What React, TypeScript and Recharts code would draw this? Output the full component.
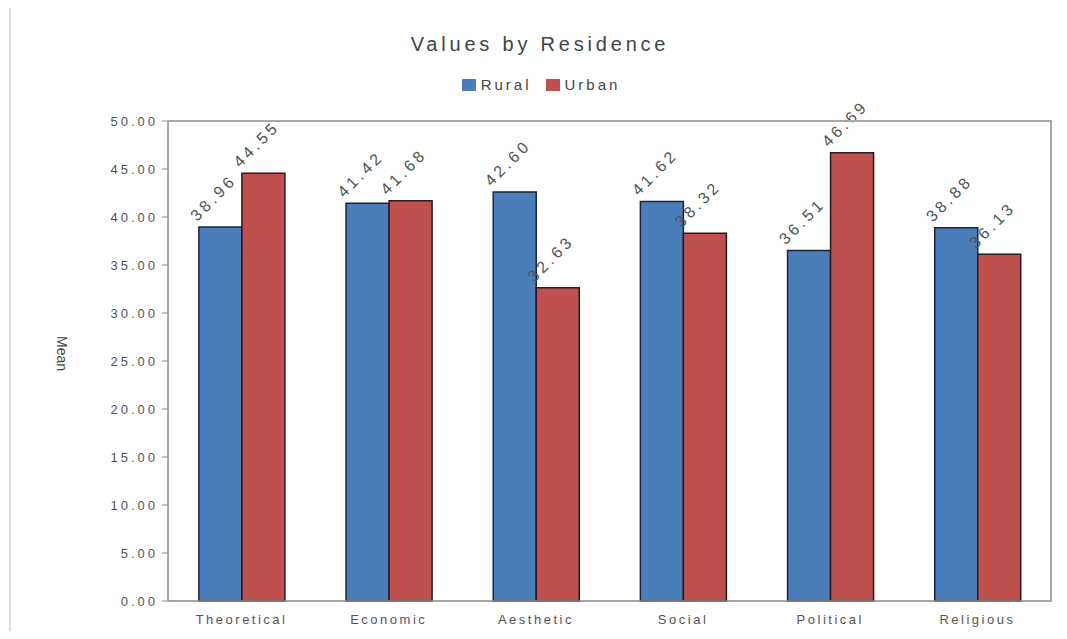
import { Bar, BarChart, LabelList, XAxis, YAxis } from "recharts";

const categories = ["Theoretical", "Economic", "Aesthetic", "Social", "Political", "Religious"];
const rural = [38.96, 41.42, 42.6, 41.62, 36.51, 38.88];
const urban = [44.55, 41.68, 32.63, 38.32, 46.69, 36.13];
const yTicks = [0, 5, 10, 15, 20, 25, 30, 35, 40, 45, 50];
const seriesNames = ["Rural", "Urban"];
const seriesColors = ["#4a7ebb", "#c0504d"];

const data = categories.map((name, i) => ({ name, Rural: rural[i], Urban: urban[i] }));

const textColor = "#4b5550";

const ValueLabel = (props: any) => {
  const { x, y, value } = props;
  const lx = Number(x) - 2;
  const ly = Number(y) - 5;
  return (
    <text
      x={lx}
      y={ly}
      transform={`rotate(-45 ${lx} ${ly})`}
      fontSize={16}
      letterSpacing={3.5}
      fill={textColor}
      fontFamily="Liberation Sans, Arial, sans-serif"
    >
      {Number(value).toFixed(2)}
    </text>
  );
};

const App = () => {
  return (
    <div style={{ position: "relative", margin: -8, width: 1067, height: 639, background: "#fff", fontFamily: "Liberation Sans, Arial, sans-serif" }}>
      <div style={{ position: "absolute", top: 33, left: 0, width: 1080, textAlign: "center", fontSize: 20, letterSpacing: 3.8, color: "#3c4842" }}>
        Values by Residence
      </div>
      <div style={{ position: "absolute", top: 76, left: 0, width: 1082, display: "flex", justifyContent: "center", gap: 14, fontSize: 15, letterSpacing: 3, color: "#3c4842" }}>
        {seriesNames.map((n, i) => (
          <span key={n} style={{ display: "flex", alignItems: "center" }}>
            <span style={{ display: "inline-block", width: 14, height: 12, background: seriesColors[i], marginRight: 5 }} />
            {n}
          </span>
        ))}
      </div>
      <BarChart
        width={1067}
        height={639}
        data={data}
        margin={{ top: 121, right: 16, bottom: 0, left: 108 }}
        barCategoryGap="21%"
        barGap={0}
        style={{ position: "absolute", left: 0, top: 0 }}
      >
        <XAxis
          dataKey="name"
          height={38}
          tickLine={false}
          axisLine={{ stroke: "#8a8a8a", strokeWidth: 1.5 }}
          tick={{ fill: "#555", fontSize: 13, letterSpacing: 2.5 }}
          tickMargin={8}
        />
        <YAxis
          width={60}
          domain={[0, 50]}
          ticks={yTicks}
          interval={0}
          tickFormatter={(v: number) => v.toFixed(2)}
          tick={{ fill: "#555", fontSize: 13, letterSpacing: 3 }}
          tickSize={6}
          tickMargin={4}
          axisLine={{ stroke: "#8a8a8a", strokeWidth: 1.5 }}
          tickLine={{ stroke: "#8a8a8a" }}
          label={{ value: "Mean", angle: 90, position: "left", offset: 46, fill: "#3c4842", fontSize: 14, dy: 10 }}
        />
        <Bar dataKey="Rural" fill={seriesColors[0]} stroke="#1b2438" strokeWidth={1.5} isAnimationActive={false}>
          <LabelList dataKey="Rural" content={ValueLabel} />
        </Bar>
        <Bar dataKey="Urban" fill={seriesColors[1]} stroke="#2a1a1a" strokeWidth={1.5} isAnimationActive={false}>
          <LabelList dataKey="Urban" content={ValueLabel} />
        </Bar>
      </BarChart>
      <div style={{ position: "absolute", left: 168, top: 120, width: 882, height: 480, borderTop: "2px solid #a8a8a8", borderRight: "2px solid #a8a8a8", pointerEvents: "none" }} />
      <div style={{ position: "absolute", left: 9, top: 6, width: 1050, height: 626, border: "2px solid #e0e0e0", pointerEvents: "none" }} />
    </div>
  );
};

export default App;
